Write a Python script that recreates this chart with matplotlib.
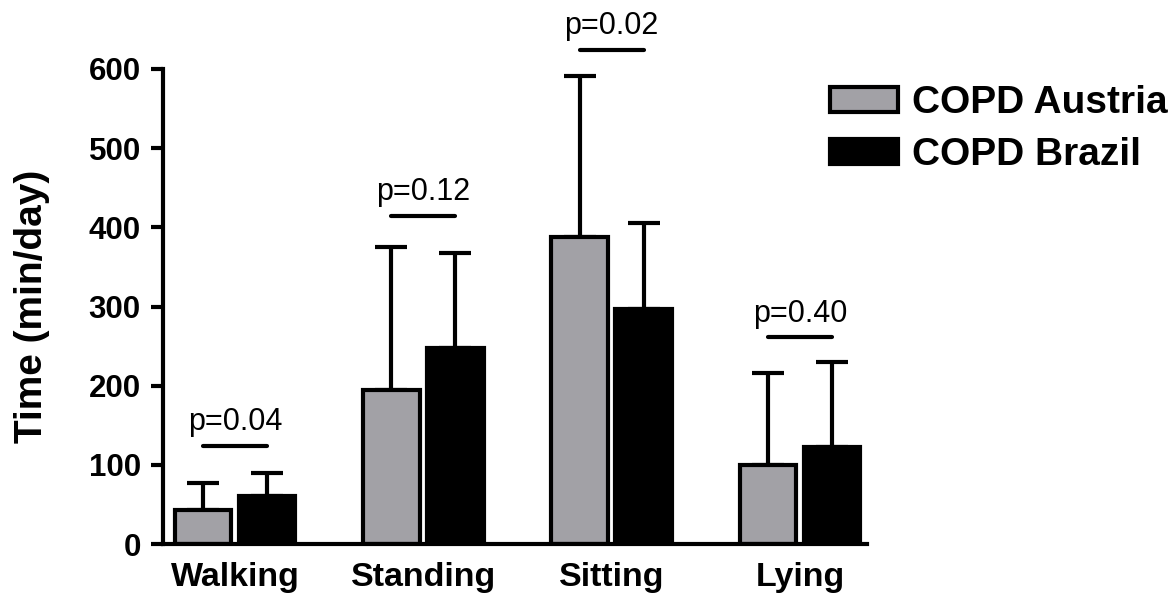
import matplotlib
matplotlib.use("Agg")
import matplotlib.pyplot as plt
import numpy as np

categories = ["Walking", "Standing", "Sitting", "Lying"]
austria_mean = [43, 195, 388, 100]
austria_sd = [34, 180, 203, 116]
brazil_mean = [61, 248, 297, 122]
brazil_sd = [29, 120, 108, 108]
p_labels = ["p=0.04", "p=0.12", "p=0.02", "p=0.40"]
p_line_y = [124, 414, 624, 261]
series_names = ["COPD Austria", "COPD Brazil"]

plt.rcParams['font.family'] = ['Liberation Sans', 'DejaVu Sans']

fig = plt.figure(figsize=(11.71, 5.96), dpi=100)
ax = fig.add_axes([163/1171, 52/596, 704/1171, 475/596])

x = np.arange(len(categories))
w = 0.30
off = 0.17
lw = 3.0

err_kw = dict(elinewidth=lw, capthick=lw, capsize=11.5, ecolor='black')
b1 = ax.bar(x - off, austria_mean, w, color='#a2a1a6', edgecolor='black', linewidth=lw,
            yerr=[np.zeros(len(x)), austria_sd], error_kw=err_kw, label=series_names[0], zorder=2)
b2 = ax.bar(x + off, brazil_mean, w, color='black', edgecolor='black', linewidth=lw,
            yerr=[np.zeros(len(x)), brazil_sd], error_kw=err_kw, label=series_names[1], zorder=2)
for bars in (b1, b2):
    for eb in bars.errorbar.lines[2]:
        eb.set_zorder(1)
        eb.set_clip_on(False)
    for cap in bars.errorbar.lines[1]:
        cap.set_clip_on(False)
        cap.set_zorder(1)

for i in range(len(categories)):
    ax.plot([x[i] - off, x[i] + off], [p_line_y[i], p_line_y[i]], color='black', lw=lw,
            solid_capstyle='round', clip_on=False)
    ax.text(x[i], p_line_y[i] + 20, p_labels[i], ha='center', va='baseline', fontsize=22,
            clip_on=False)

ax.set_xlim(-0.382, 3.356)
ax.set_ylim(0, 600)
ax.set_yticks(np.arange(0, 601, 100))
ax.set_xticks(x)
ax.set_xticklabels(categories, fontsize=24.5, fontweight='bold')
for lab in ax.get_yticklabels():
    lab.set_fontsize(22.5)
    lab.set_fontweight('bold')
ax.tick_params(axis='y', length=9, width=lw, pad=7)
ax.tick_params(axis='x', length=0, pad=13)
ax.spines['top'].set_visible(False)
ax.spines['right'].set_visible(False)
ax.spines['left'].set_linewidth(lw)
ax.spines['bottom'].set_linewidth(lw)
ax.set_ylabel("Time (min/day)", fontsize=28, fontweight='bold', labelpad=28)

fig.legend(handles=[b1, b2], labels=series_names, loc='upper left',
           bbox_to_anchor=(830/1171, 1 - 85/596), frameon=False,
           prop=dict(size=28, weight='bold'), handlelength=1.75, handleheight=0.62,
           handletextpad=0.37, labelspacing=0.42, borderaxespad=0, borderpad=0)

fig.savefig("out.png", dpi=100)
